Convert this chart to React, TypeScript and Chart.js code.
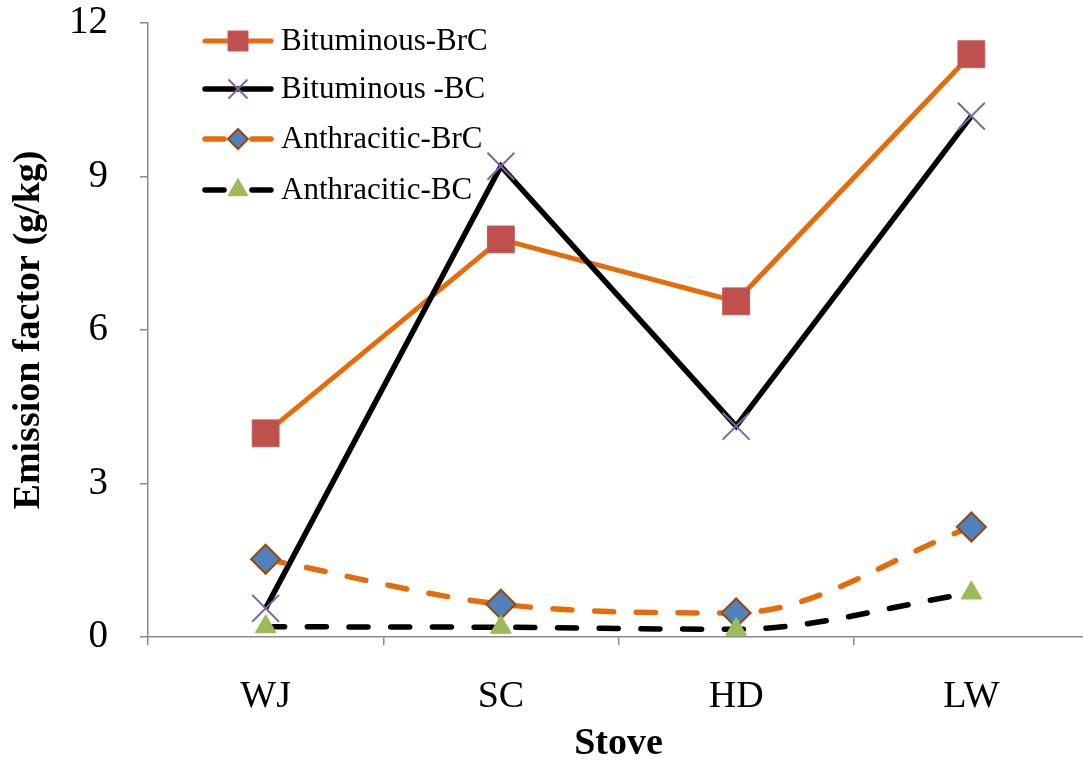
import React, { useEffect, useRef } from 'react';
import { Chart, registerables } from 'chart.js';

Chart.register(...registerables);

const categories = ['WJ', 'SC', 'HD', 'LW'];
const bituminousBrC = [3.98, 7.77, 6.56, 11.39];
const bituminousBC = [0.56, 9.2, 4.12, 10.18];
const anthraciticBrC = [1.52, 0.64, 0.47, 2.15];
const anthraciticBC = [0.2, 0.19, 0.15, 0.86];
const seriesLabels = ['Bituminous-BrC', 'Bituminous -BC', 'Anthracitic-BrC', 'Anthracitic-BC'];
const yMin = 0;
const yMax = 12;
const yStep = 3;
const xTitle = 'Stove';
const yTitle = 'Emission factor (g/kg)';

const FONT = "'Liberation Serif', 'Times New Roman', serif";
const AXIS = '#898989';
const DASH = [19, 22.7];

function drawMarker(ctx: CanvasRenderingContext2D, style: string, x: number, y: number, r: number, fill: string, stroke: string, bw: number) {
  ctx.save();
  ctx.setLineDash([]);
  ctx.beginPath();
  if (style === 'rect') {
    ctx.rect(x - r, y - r, 2 * r, 2 * r);
  } else if (style === 'rectRot') {
    ctx.moveTo(x, y - r);
    ctx.lineTo(x + r, y);
    ctx.lineTo(x, y + r);
    ctx.lineTo(x - r, y);
    ctx.closePath();
  } else if (style === 'triangle') {
    ctx.moveTo(x, y - r);
    ctx.lineTo(x + r * 0.866, y + r * 0.5);
    ctx.lineTo(x - r * 0.866, y + r * 0.5);
    ctx.closePath();
  } else if (style === 'crossRot') {
    ctx.moveTo(x - r, y - r);
    ctx.lineTo(x + r, y + r);
    ctx.moveTo(x + r, y - r);
    ctx.lineTo(x - r, y + r);
  }
  if (style !== 'crossRot') {
    ctx.fillStyle = fill;
    ctx.fill();
  }
  ctx.strokeStyle = stroke;
  ctx.lineWidth = bw;
  ctx.lineCap = 'butt';
  ctx.stroke();
  ctx.restore();
}

const legendPlugin = {
  id: 'insideLegend',
  afterDraw(chart: any) {
    const ctx: CanvasRenderingContext2D = chart.ctx;
    const rows = [41, 89, 139, 190];
    const x0 = 203;
    const x1 = 273;
    const mx = 238;
    const tx = 281;
    const legendR = [10, 9.5, 10, 11.5];
    chart.data.datasets.forEach((ds: any, i: number) => {
      const y = rows[i];
      ctx.save();
      ctx.strokeStyle = ds.borderColor;
      ctx.lineWidth = ds.borderWidth;
      ctx.lineCap = 'round';
      ctx.beginPath();
      if (ds.borderDash && ds.borderDash.length) {
        ctx.moveTo(x0 + 2, y);
        ctx.lineTo(mx - 14, y);
        ctx.moveTo(mx + 14, y);
        ctx.lineTo(x1 - 2, y);
      } else {
        ctx.moveTo(x0 + 2, y);
        ctx.lineTo(x1 - 2, y);
      }
      ctx.stroke();
      drawMarker(ctx, ds.pointStyle, mx, y, legendR[i], ds.pointBackgroundColor, ds.pointBorderColor, ds.pointBorderWidth);
      ctx.fillStyle = '#000';
      ctx.font = `31px ${FONT}`;
      ctx.textAlign = 'left';
      ctx.textBaseline = 'middle';
      ctx.fillText(ds.label, tx, y + 1);
      ctx.restore();
    });
  },
};

export default function App() {
  const ref = useRef<HTMLCanvasElement | null>(null);

  useEffect(() => {
    if (!ref.current) return;
    const chart = new Chart(ref.current, {
      type: 'line',
      data: {
        labels: categories,
        datasets: [
          {
            label: seriesLabels[0],
            data: bituminousBrC,
            borderColor: '#E46C0A',
            borderWidth: 5,
            pointStyle: 'rect',
            pointRadius: 19,
            pointBackgroundColor: '#C0504D',
            pointBorderColor: '#C85A57',
            pointBorderWidth: 1,
            tension: 0,
            order: 3,
            clip: false,
          },
          {
            label: seriesLabels[1],
            data: bituminousBC,
            borderColor: '#000000',
            borderWidth: 5.5,
            pointStyle: 'crossRot',
            pointRadius: 19,
            pointBackgroundColor: '#8064A2',
            pointBorderColor: '#8064A2',
            pointBorderWidth: 2,
            tension: 0,
            order: 2,
            clip: false,
          },
          {
            label: seriesLabels[2],
            data: anthraciticBrC,
            borderColor: '#E46C0A',
            borderWidth: 5.5,
            borderDash: DASH,
            borderCapStyle: 'round',
            pointStyle: 'rectRot',
            pointRadius: 14.5,
            pointBackgroundColor: '#4F81BD',
            pointBorderColor: '#984807',
            pointBorderWidth: 2,
            cubicInterpolationMode: 'monotone',
            order: 1,
            clip: false,
          },
          {
            label: seriesLabels[3],
            data: anthraciticBC,
            borderColor: '#000000',
            borderWidth: 5.5,
            borderDash: DASH,
            borderCapStyle: 'round',
            pointStyle: 'triangle',
            pointRadius: 12,
            pointBackgroundColor: '#9BBB59',
            pointBorderColor: '#9BBB59',
            pointBorderWidth: 1,
            cubicInterpolationMode: 'monotone',
            order: 0,
            clip: false,
          },
        ] as any,
      },
      options: {
        animation: false,
        responsive: false,
        devicePixelRatio: 1,
        layout: { padding: { top: 23, right: 13, left: 0, bottom: 0 } },
        plugins: {
          legend: { display: false },
          tooltip: { enabled: false },
        },
        scales: {
          x: {
            offset: true,
            grid: {
              offset: true,
              drawOnChartArea: false,
              drawTicks: true,
              tickLength: 8,
              color: AXIS,
              lineWidth: 1.5,
            },
            border: { display: true, color: AXIS, width: 1.5 },
            ticks: {
              color: '#000',
              padding: 29,
              font: { family: FONT, size: 38, lineHeight: 1.2 },
            },
            title: {
              display: true,
              text: xTitle,
              color: '#000',
              padding: { top: 0, bottom: 0 },
              font: { family: FONT, size: 38, weight: 'bold', lineHeight: 1 },
            },
            afterFit: (scale: any) => {
              scale.height = 126;
              scale.paddingLeft = 0;
              scale.paddingRight = 0;
            },
          },
          y: {
            min: yMin,
            max: yMax,
            ticks: {
              stepSize: yStep,
              color: '#000',
              padding: 32,
              font: { family: FONT, size: 39, lineHeight: 1.2 },
            },
            grid: {
              drawOnChartArea: false,
              drawTicks: true,
              tickLength: 8,
              color: AXIS,
              lineWidth: 1.5,
            },
            border: { display: true, color: AXIS, width: 1.5 },
            title: {
              display: true,
              text: yTitle,
              color: '#000',
              padding: { top: 10, bottom: 0 },
              font: { family: FONT, size: 38, weight: 'bold', lineHeight: 1 },
            },
            afterFit: (scale: any) => {
              scale.width = 148;
              scale.paddingTop = 0;
              scale.paddingBottom = 0;
            },
          },
        },
      } as any,
      plugins: [legendPlugin],
    });
    return () => chart.destroy();
  }, []);

  return (
    <div
      style={{
        position: 'fixed',
        left: 0,
        top: 0,
        width: 1083,
        height: 763,
        overflow: 'hidden',
        background: '#fff',
      }}
    >
      <canvas ref={ref} width={1110} height={763} style={{ display: 'block' }} />
    </div>
  );
}
